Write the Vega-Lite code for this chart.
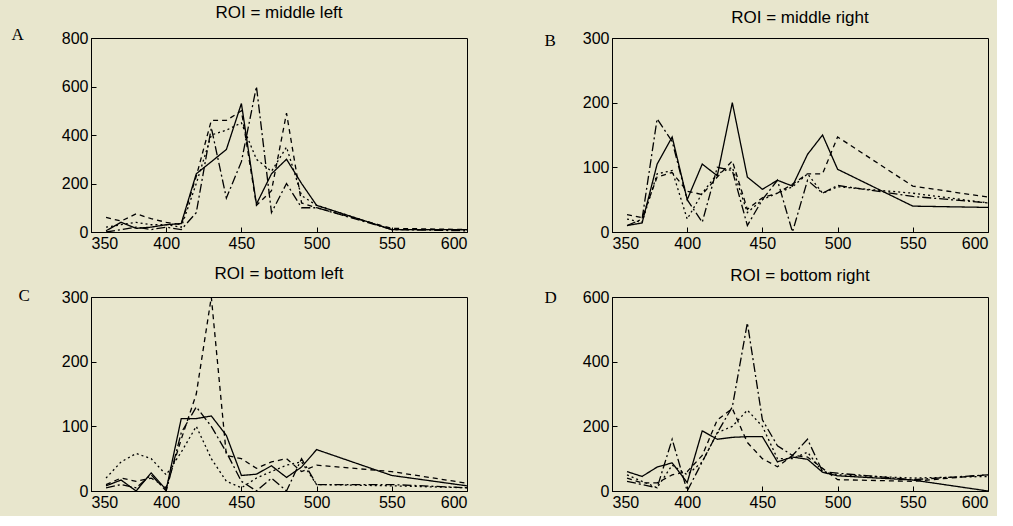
{
  "$schema": "https://vega.github.io/schema/vega-lite/v6.json",
  "background": "#e8e6cd",
  "padding": {"left": 10, "top": 3, "right": 5, "bottom": 5},
  "spacing": 12,
  "config": {
    "view": {"stroke": "black", "strokeWidth": 1},
    "axis": {"labelFont": "Liberation Sans", "labelFontSize": 16, "labelColor": "black", "domainColor": "black", "tickColor": "black", "grid": false, "tickSize": -5, "labelPadding": 8},
    "title": {"font": "Liberation Sans", "fontSize": 17, "fontWeight": "normal", "color": "black", "offset": 3},
    "line": {"color": "black", "strokeWidth": 1.3}
  },
  "datasets": {
    "A": [
      {"wl": 360, "solid": 5, "dashed": 60, "dotted": 20, "dashdot": 0},
      {"wl": 370, "solid": 40, "dashed": 45, "dotted": 30, "dashdot": 10},
      {"wl": 380, "solid": 15, "dashed": 75, "dotted": 40, "dashdot": 20},
      {"wl": 390, "solid": 20, "dashed": 55, "dotted": 30, "dashdot": 10},
      {"wl": 400, "solid": 30, "dashed": 40, "dotted": 30, "dashdot": 20},
      {"wl": 410, "solid": 35, "dashed": 30, "dotted": 20, "dashdot": 10},
      {"wl": 420, "solid": 240, "dashed": 230, "dotted": 200, "dashdot": 80},
      {"wl": 430, "solid": 290, "dashed": 460, "dotted": 400, "dashdot": 430},
      {"wl": 440, "solid": 340, "dashed": 460, "dotted": 420, "dashdot": 140},
      {"wl": 450, "solid": 530, "dashed": 500, "dotted": 450, "dashdot": 290},
      {"wl": 460, "solid": 115, "dashed": 110, "dotted": 300, "dashdot": 600},
      {"wl": 470, "solid": 240, "dashed": 170, "dotted": 250, "dashdot": 80},
      {"wl": 480, "solid": 300, "dashed": 490, "dotted": 350, "dashdot": 200},
      {"wl": 490, "solid": 200, "dashed": 120, "dotted": 150, "dashdot": 100},
      {"wl": 500, "solid": 110, "dashed": 100, "dotted": 110, "dashdot": 100},
      {"wl": 550, "solid": 10, "dashed": 15, "dotted": 10, "dashdot": 10},
      {"wl": 600, "solid": 10, "dashed": 10, "dotted": 10, "dashdot": 5}
    ],
    "B": [
      {"wl": 360, "solid": 10, "dashed": 27, "dotted": 20, "dashdot": 10},
      {"wl": 370, "solid": 14, "dashed": 22, "dotted": 15, "dashdot": 20},
      {"wl": 380, "solid": 105, "dashed": 85, "dotted": 90, "dashdot": 175},
      {"wl": 390, "solid": 147, "dashed": 92, "dotted": 95, "dashdot": 140},
      {"wl": 400, "solid": 50, "dashed": 63, "dotted": 20, "dashdot": 50},
      {"wl": 410, "solid": 105, "dashed": 58, "dotted": 60, "dashdot": 15},
      {"wl": 420, "solid": 87, "dashed": 85, "dotted": 90, "dashdot": 100},
      {"wl": 430, "solid": 200, "dashed": 110, "dotted": 100, "dashdot": 95},
      {"wl": 440, "solid": 85, "dashed": 35, "dotted": 30, "dashdot": 10},
      {"wl": 450, "solid": 66, "dashed": 53, "dotted": 50, "dashdot": 50},
      {"wl": 460, "solid": 80, "dashed": 60, "dotted": 60, "dashdot": 80},
      {"wl": 470, "solid": 71, "dashed": 74, "dotted": 70, "dashdot": 0},
      {"wl": 480, "solid": 120, "dashed": 90, "dotted": 90, "dashdot": 80},
      {"wl": 490, "solid": 150, "dashed": 90, "dotted": 60, "dashdot": 60},
      {"wl": 500, "solid": 97, "dashed": 147, "dotted": 70, "dashdot": 72},
      {"wl": 550, "solid": 40, "dashed": 71, "dotted": 60, "dashdot": 55},
      {"wl": 600, "solid": 38, "dashed": 54, "dotted": 45, "dashdot": 45}
    ],
    "C": [
      {"wl": 360, "solid": 8, "dashed": 10, "dotted": 20, "dashdot": 5},
      {"wl": 370, "solid": 17, "dashed": 20, "dotted": 45, "dashdot": 10},
      {"wl": 380, "solid": 0, "dashed": 15, "dotted": 58, "dashdot": 5},
      {"wl": 390, "solid": 28, "dashed": 20, "dotted": 50, "dashdot": 25},
      {"wl": 400, "solid": 2, "dashed": 5, "dotted": 25, "dashdot": 0},
      {"wl": 410, "solid": 112, "dashed": 80, "dotted": 60, "dashdot": 90},
      {"wl": 420, "solid": 112, "dashed": 150, "dotted": 100, "dashdot": 130},
      {"wl": 430, "solid": 116, "dashed": 300, "dotted": 50, "dashdot": 100},
      {"wl": 440, "solid": 86, "dashed": 55, "dotted": 15, "dashdot": 60},
      {"wl": 450, "solid": 24, "dashed": 50, "dotted": 5, "dashdot": 15},
      {"wl": 460, "solid": 26, "dashed": 35, "dotted": 20, "dashdot": 0},
      {"wl": 470, "solid": 39, "dashed": 45, "dotted": 30, "dashdot": 20},
      {"wl": 480, "solid": 21, "dashed": 50, "dotted": 40, "dashdot": 0},
      {"wl": 490, "solid": 37, "dashed": 30, "dotted": 45, "dashdot": 50},
      {"wl": 500, "solid": 64, "dashed": 40, "dotted": 10, "dashdot": 10},
      {"wl": 550, "solid": 24, "dashed": 30, "dotted": 8, "dashdot": 10},
      {"wl": 600, "solid": 8, "dashed": 12, "dotted": 5, "dashdot": 5}
    ],
    "D": [
      {"wl": 360, "solid": 60, "dashed": 40, "dotted": 50, "dashdot": 30},
      {"wl": 370, "solid": 45, "dashed": 25, "dotted": 30, "dashdot": 20},
      {"wl": 380, "solid": 74, "dashed": 25, "dotted": 10, "dashdot": 10},
      {"wl": 390, "solid": 87, "dashed": 50, "dotted": 80, "dashdot": 160},
      {"wl": 400, "solid": 26, "dashed": 60, "dotted": 50, "dashdot": 0},
      {"wl": 410, "solid": 186, "dashed": 110, "dotted": 90, "dashdot": 90},
      {"wl": 420, "solid": 160, "dashed": 220, "dotted": 180, "dashdot": 180},
      {"wl": 430, "solid": 166, "dashed": 255, "dotted": 200, "dashdot": 260},
      {"wl": 440, "solid": 168, "dashed": 150, "dotted": 250, "dashdot": 520},
      {"wl": 450, "solid": 168, "dashed": 100, "dotted": 200, "dashdot": 220},
      {"wl": 460, "solid": 90, "dashed": 75, "dotted": 100, "dashdot": 140},
      {"wl": 470, "solid": 105, "dashed": 110, "dotted": 100, "dashdot": 110},
      {"wl": 480, "solid": 98, "dashed": 105, "dotted": 120, "dashdot": 160},
      {"wl": 490, "solid": 58, "dashed": 70, "dotted": 60, "dashdot": 60},
      {"wl": 500, "solid": 47, "dashed": 35, "dotted": 50, "dashdot": 55},
      {"wl": 550, "solid": 34, "dashed": 30, "dotted": 40, "dashdot": 35},
      {"wl": 600, "solid": 0, "dashed": 50, "dotted": 45, "dashdot": 50}
    ]
  },
  "vconcat": [
    {
      "spacing": 72,
      "hconcat": [
        {
          "width": 376, "height": 194,
          "title": "ROI = middle left",
          "data": {"name": "A"},
          "transform": [{"fold": ["solid", "dashed", "dotted", "dashdot"], "as": ["style", "value"]}],
          "mark": {"type": "line"},
          "encoding": {
            "x": {"field": "wl", "type": "quantitative", "scale": {"domain": [350, 600], "nice": false}, "axis": {"values": [350, 400, 450, 500, 550, 600], "title": null}},
            "y": {"field": "value", "type": "quantitative", "scale": {"domain": [0, 800], "nice": false}, "axis": {"values": [0, 200, 400, 600, 800], "title": "A", "titleAngle": 0, "titleX": -80, "titleY": -12, "titleAlign": "left", "titleBaseline": "top", "titleFont": "Liberation Serif", "titleFontSize": 17, "titleFontWeight": "normal"}},
            "strokeDash": {"field": "style", "type": "nominal", "scale": {"domain": ["solid", "dashed", "dotted", "dashdot"], "range": [[1, 0], [5, 4], [2, 3], [9, 3, 2, 3]]}, "legend": null}
          }
        },
        {
          "width": 376, "height": 194,
          "title": "ROI = middle right",
          "data": {"name": "B"},
          "transform": [{"fold": ["solid", "dashed", "dotted", "dashdot"], "as": ["style", "value"]}],
          "mark": {"type": "line"},
          "encoding": {
            "x": {"field": "wl", "type": "quantitative", "scale": {"domain": [350, 600], "nice": false}, "axis": {"values": [350, 400, 450, 500, 550, 600], "title": null}},
            "y": {"field": "value", "type": "quantitative", "scale": {"domain": [0, 300], "nice": false}, "axis": {"values": [0, 100, 200, 300], "title": "B", "titleAngle": 0, "titleX": -68, "titleY": -6, "titleAlign": "left", "titleBaseline": "top", "titleFont": "Liberation Serif", "titleFontSize": 17, "titleFontWeight": "normal"}},
            "strokeDash": {"field": "style", "type": "nominal", "scale": {"domain": ["solid", "dashed", "dotted", "dashdot"], "range": [[1, 0], [5, 4], [2, 3], [9, 3, 2, 3]]}, "legend": null}
          }
        }
      ]
    },
    {
      "spacing": 72,
      "hconcat": [
        {
          "width": 376, "height": 194,
          "title": "ROI = bottom left",
          "data": {"name": "C"},
          "transform": [{"fold": ["solid", "dashed", "dotted", "dashdot"], "as": ["style", "value"]}],
          "mark": {"type": "line"},
          "encoding": {
            "x": {"field": "wl", "type": "quantitative", "scale": {"domain": [350, 600], "nice": false}, "axis": {"values": [350, 400, 450, 500, 550, 600], "title": null}},
            "y": {"field": "value", "type": "quantitative", "scale": {"domain": [0, 300], "nice": false}, "axis": {"values": [0, 100, 200, 300], "title": "C", "titleAngle": 0, "titleX": -73, "titleY": -10, "titleAlign": "left", "titleBaseline": "top", "titleFont": "Liberation Serif", "titleFontSize": 17, "titleFontWeight": "normal"}},
            "strokeDash": {"field": "style", "type": "nominal", "scale": {"domain": ["solid", "dashed", "dotted", "dashdot"], "range": [[1, 0], [5, 4], [2, 3], [9, 3, 2, 3]]}, "legend": null}
          }
        },
        {
          "width": 376, "height": 194,
          "title": "ROI = bottom right",
          "data": {"name": "D"},
          "transform": [{"fold": ["solid", "dashed", "dotted", "dashdot"], "as": ["style", "value"]}],
          "mark": {"type": "line"},
          "encoding": {
            "x": {"field": "wl", "type": "quantitative", "scale": {"domain": [350, 600], "nice": false}, "axis": {"values": [350, 400, 450, 500, 550, 600], "title": null}},
            "y": {"field": "value", "type": "quantitative", "scale": {"domain": [0, 600], "nice": false}, "axis": {"values": [0, 200, 400, 600], "title": "D", "titleAngle": 0, "titleX": -68, "titleY": -8, "titleAlign": "left", "titleBaseline": "top", "titleFont": "Liberation Serif", "titleFontSize": 17, "titleFontWeight": "normal"}},
            "strokeDash": {"field": "style", "type": "nominal", "scale": {"domain": ["solid", "dashed", "dotted", "dashdot"], "range": [[1, 0], [5, 4], [2, 3], [9, 3, 2, 3]]}, "legend": null}
          }
        }
      ]
    }
  ]
}
